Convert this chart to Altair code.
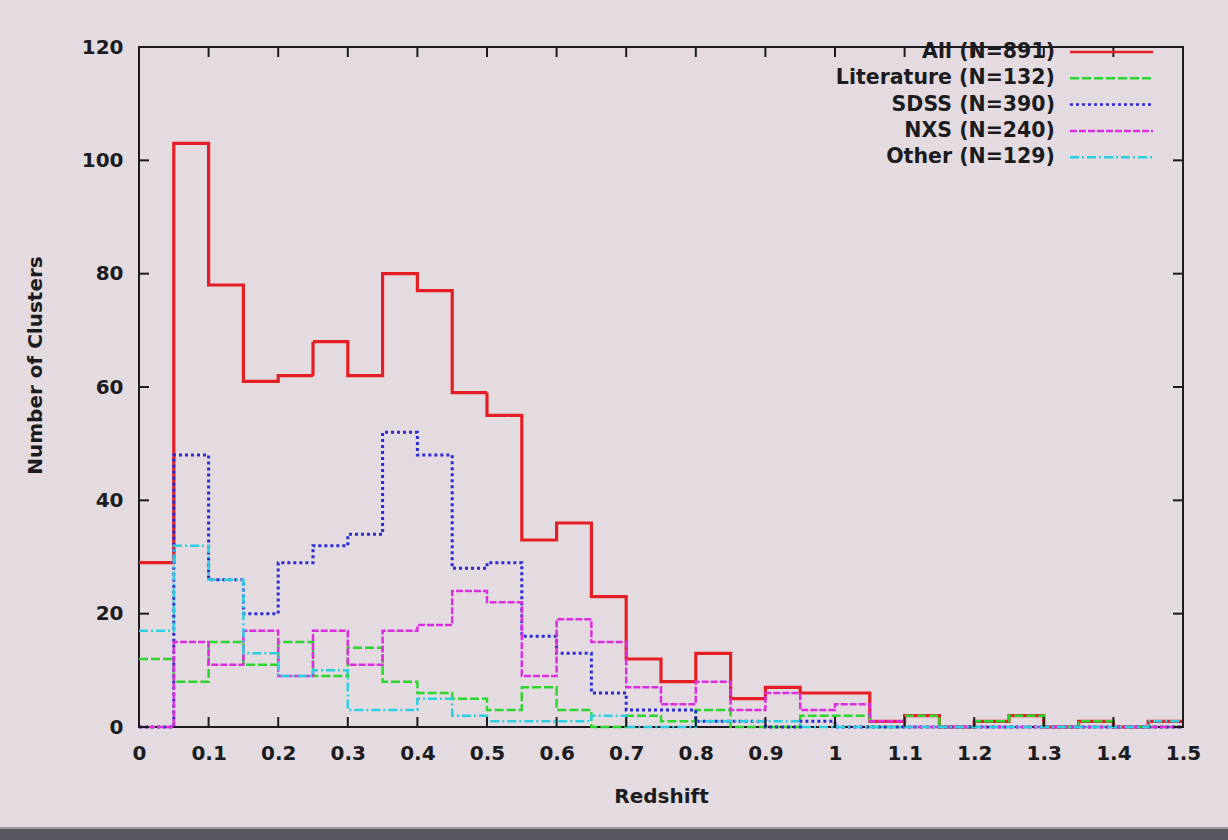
import altair as alt
import pandas as pd

# Redshift histogram bins (left edges, width 0.05) and the right end of the last bin
bin_starts = [0.00, 0.05, 0.10, 0.15, 0.20, 0.25, 0.30, 0.35, 0.40, 0.45,
              0.50, 0.55, 0.60, 0.65, 0.70, 0.75, 0.80, 0.85, 0.90, 0.95,
              1.00, 1.05, 1.10, 1.15, 1.20, 1.25, 1.30, 1.35, 1.40, 1.45]
x_end = 1.5

# Cluster counts per bin for each sample
all_counts = [29, 103, 78, 61, 62, 68, 62, 80, 77, 59, 55, 33, 36, 23, 12,
              8, 13, 5, 7, 6, 6, 1, 2, 0, 1, 2, 0, 1, 0, 1]
literature = [12, 8, 15, 11, 15, 9, 14, 8, 6, 5, 3, 7, 3, 0, 2,
              1, 3, 0, 0, 2, 2, 0, 2, 0, 1, 2, 0, 1, 0, 0]
sdss = [0, 48, 26, 20, 29, 32, 34, 52, 48, 28, 29, 16, 13, 6, 3,
        3, 1, 1, 0, 1, 0, 0, 0, 0, 0, 0, 0, 0, 0, 0]
nxs = [0, 15, 11, 17, 9, 17, 11, 17, 18, 24, 22, 9, 19, 15, 7,
       4, 8, 3, 6, 3, 4, 1, 0, 0, 0, 0, 0, 0, 0, 0]
other = [17, 32, 26, 13, 9, 10, 3, 3, 5, 2, 1, 1, 1, 2, 0,
         0, 1, 1, 1, 0, 0, 0, 0, 0, 0, 0, 0, 0, 0, 1]

series_labels = ["All (N=891)", "Literature (N=132)", "SDSS (N=390)",
                 "NXS (N=240)", "Other (N=129)"]
series_values = [all_counts, literature, sdss, nxs, other]
series_colors = ["#e51e24", "#2ed52e", "#2c2cd2", "#dc2ede", "#2ccfe0"]
series_dash = [[1, 0], [9, 3], [3, 3], [7, 2], [9, 3, 2, 3]]
series_width = [3.2, 2.5, 3, 2.5, 2.5]

x_ticks = [0, 0.1, 0.2, 0.3, 0.4, 0.5, 0.6, 0.7, 0.8, 0.9, 1.0,
           1.1, 1.2, 1.3, 1.4, 1.5]
y_ticks = [0, 20, 40, 60, 80, 100, 120]

W, H = 1044, 680
FONT = "DejaVu Sans"
INK = "#1c1c20"
TICK = 10

x_scale = alt.Scale(domain=[0, 1.5], nice=False, zero=False)
y_scale = alt.Scale(domain=[0, 120], nice=False)

x_axis = alt.Axis(values=x_ticks, format=".1~f", ticks=False, domain=False, grid=False,
                  labelFont=FONT, labelFontWeight="bold", labelFontSize=20,
                  labelColor=INK, labelPadding=16, labelFlush=False,
                  title="Redshift", titleFont=FONT, titleFontWeight="bold",
                  titleFontSize=20, titleColor=INK, titleBaseline="middle",
                  titleY=69)
y_axis = alt.Axis(values=y_ticks, ticks=False, domain=False, grid=False,
                  labelFont=FONT, labelFontWeight="bold", labelFontSize=20,
                  labelColor=INK, labelPadding=16,
                  title="Number of Clusters", titleFont=FONT, titleFontWeight="bold",
                  titleFontSize=20, titleColor=INK, titleBaseline="middle",
                  titleX=-104, titleY=318, titleAlign="center")


def step_frame(values):
    xs = bin_starts + [x_end]
    ys = values + [values[-1]]
    return pd.DataFrame({"z": xs, "n": ys})


layers = []

# Axis carrier (labels and titles only)
layers.append(
    alt.Chart(pd.DataFrame({"z": x_ticks[:7], "n": y_ticks}))
    .mark_point(opacity=0)
    .encode(x=alt.X("z:Q", scale=x_scale, axis=x_axis),
            y=alt.Y("n:Q", scale=y_scale, axis=y_axis))
)

# Histogram outlines drawn as steps, one layer per sample
for vals, col, dash, sw in zip(series_values, series_colors, series_dash, series_width):
    layers.append(
        alt.Chart(step_frame(vals))
        .mark_line(interpolate="step-after", color=col, strokeDash=dash,
                   strokeWidth=sw, strokeCap="butt")
        .encode(x=alt.X("z:Q", scale=x_scale), y=alt.Y("n:Q", scale=y_scale))
    )

# Inward tick marks on all four sides
xt = pd.DataFrame({"z": x_ticks})
yt = pd.DataFrame({"n": y_ticks})
tick_style = dict(color=INK, strokeWidth=2)
layers += [
    alt.Chart(xt).mark_rule(**tick_style).encode(
        x=alt.X("z:Q", scale=x_scale), y=alt.value(H), y2=alt.value(H - TICK)),
    alt.Chart(xt).mark_rule(**tick_style).encode(
        x=alt.X("z:Q", scale=x_scale), y=alt.value(0), y2=alt.value(TICK)),
    alt.Chart(yt).mark_rule(**tick_style).encode(
        y=alt.Y("n:Q", scale=y_scale), x=alt.value(0), x2=alt.value(TICK)),
    alt.Chart(yt).mark_rule(**tick_style).encode(
        y=alt.Y("n:Q", scale=y_scale), x=alt.value(W), x2=alt.value(W - TICK)),
]

# Key in the top-right corner: label on the left, line sample on the right
one = pd.DataFrame({"k": [0]})
for i, (lab, col, dash) in enumerate(zip(series_labels, series_colors, series_dash)):
    ry = 5 + i * 26.3
    layers.append(
        alt.Chart(one).mark_text(align="right", baseline="middle", font=FONT,
                                 fontWeight="bold", fontSize=20.5, color=INK)
        .encode(x=alt.value(916), y=alt.value(ry), text=alt.value(lab))
    )
    layers.append(
        alt.Chart(one).mark_rule(color=col, strokeDash=dash, strokeWidth=2.5,
                                 strokeCap="butt")
        .encode(x=alt.value(931), x2=alt.value(1014), y=alt.value(ry))
    )

# Dark frame strip along the bottom edge of the slide
layers.append(
    alt.Chart(one).mark_rect(color="#56565e")
    .encode(x=alt.value(-139), x2=alt.value(1228 - 139),
            y=alt.value(782), y2=alt.value(800))
)
layers.append(
    alt.Chart(one).mark_rule(color="#9c9aa2", strokeWidth=2)
    .encode(x=alt.value(-139), x2=alt.value(1228 - 139), y=alt.value(781))
)

chart = (
    alt.layer(*layers)
    .properties(width=W, height=H,
                autosize=alt.AutoSizeParams(type="none"),
                padding={"left": 139, "top": 47, "right": 45, "bottom": 113},
                background="#e3dbe0")
    .configure_view(stroke=INK, strokeWidth=2)
)

chart.save("out.html", embed_options={"renderer": "svg", "actions": False})
